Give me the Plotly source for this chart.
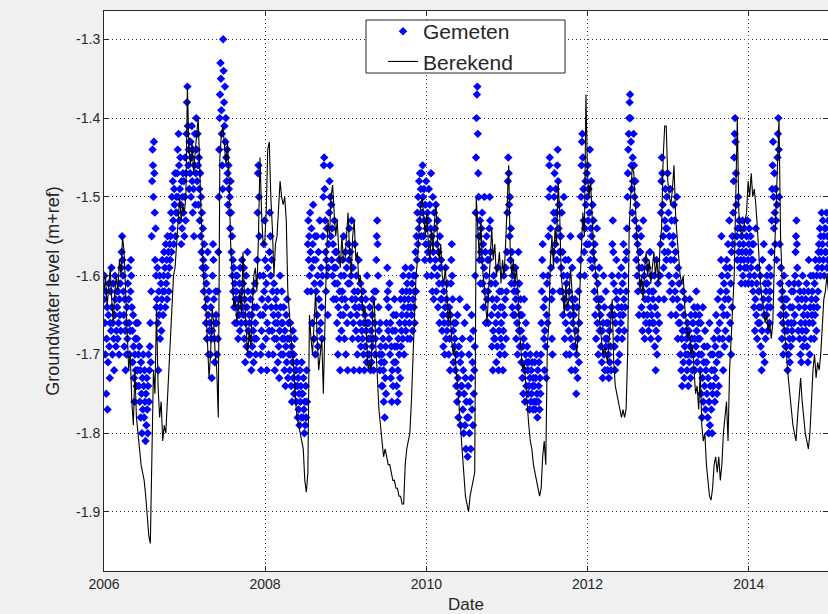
import pandas as pd
import plotly.graph_objects as go

# ---------------- data ----------------
# computed groundwater level, weekly values (m+ref)
berekend_2006 = [-1.62,-1.60,-1.64,-1.61,-1.59,-1.63,-1.66,-1.62,-1.60,-1.62,-1.58,-1.60,-1.55,-1.57,-1.62,-1.68,-1.72,-1.70,-1.76,-1.79,
                 -1.72,-1.78,-1.80,-1.82,-1.84,-1.85,-1.86,-1.88,-1.91,-1.93,-1.94,-1.85,-1.72,-1.75,-1.64,-1.74,-1.78,-1.76,-1.81,-1.79,
                 -1.80,-1.76,-1.72,-1.68,-1.64,-1.60,-1.59,-1.56,-1.54,-1.50,-1.53,-1.51]
berekend_2007 = [-1.52,-1.50,-1.36,-1.44,-1.46,-1.43,-1.47,-1.44,-1.42,-1.40,-1.48,-1.53,-1.58,-1.62,-1.64,-1.68,-1.73,-1.70,-1.64,-1.66,
                 -1.70,-1.72,-1.78,-1.45,-1.42,-1.41,-1.44,-1.46,-1.43,-1.48,-1.56,-1.60,-1.64,-1.63,-1.66,-1.64,-1.62,-1.65,-1.57,-1.63,
                 -1.66,-1.70,-1.67,-1.69,-1.64,-1.60,-1.59,-1.62,-1.55,-1.45,-1.52,-1.56]
berekend_2008 = [-1.56,-1.52,-1.44,-1.43,-1.50,-1.54,-1.60,-1.56,-1.55,-1.52,-1.48,-1.50,-1.51,-1.50,-1.53,-1.62,-1.65,-1.68,-1.70,-1.72,
                 -1.76,-1.78,-1.79,-1.80,-1.81,-1.82,-1.86,-1.875,-1.85,-1.65,-1.68,-1.70,-1.66,-1.62,-1.68,-1.72,-1.70,-1.68,-1.75,-1.66,
                 -1.58,-1.53,-1.55,-1.50,-1.485,-1.52,-1.55,-1.53,-1.57,-1.59,-1.55,-1.58]
berekend_2009 = [-1.58,-1.55,-1.52,-1.57,-1.60,-1.55,-1.53,-1.58,-1.57,-1.61,-1.60,-1.63,-1.65,-1.64,-1.68,-1.72,-1.71,-1.72,-1.64,-1.63,
                 -1.69,-1.74,-1.77,-1.79,-1.81,-1.83,-1.82,-1.83,-1.84,-1.84,-1.85,-1.86,-1.86,-1.87,-1.87,-1.88,-1.88,-1.89,-1.89,-1.84,
                 -1.82,-1.81,-1.80,-1.76,-1.70,-1.64,-1.60,-1.58,-1.54,-1.51,-1.50,-1.53]
berekend_2010 = [-1.55,-1.52,-1.56,-1.58,-1.54,-1.57,-1.53,-1.51,-1.56,-1.58,-1.56,-1.60,-1.61,-1.59,-1.63,-1.66,-1.64,-1.68,-1.70,-1.69,
                 -1.72,-1.74,-1.77,-1.80,-1.83,-1.86,-1.88,-1.89,-1.90,-1.88,-1.87,-1.86,-1.85,-1.50,-1.55,-1.58,-1.53,-1.59,-1.61,-1.64,
                 -1.66,-1.62,-1.57,-1.54,-1.58,-1.56,-1.60,-1.59,-1.57,-1.61,-1.58,-1.60]
berekend_2011 = [-1.56,-1.50,-1.46,-1.57,-1.60,-1.58,-1.61,-1.59,-1.62,-1.67,-1.70,-1.72,-1.71,-1.74,-1.77,-1.79,-1.81,-1.82,-1.84,-1.85,
                 -1.86,-1.87,-1.88,-1.87,-1.83,-1.81,-1.84,-1.69,-1.66,-1.58,-1.55,-1.59,-1.54,-1.56,-1.48,-1.52,-1.60,-1.62,-1.65,-1.61,
                 -1.64,-1.63,-1.59,-1.62,-1.66,-1.68,-1.70,-1.67,-1.62,-1.58,-1.52,-1.55]
berekend_2012 = [-1.37,-1.47,-1.50,-1.48,-1.52,-1.57,-1.59,-1.61,-1.63,-1.66,-1.68,-1.70,-1.69,-1.70,-1.71,-1.68,-1.66,-1.63,-1.71,-1.74,
                 -1.75,-1.76,-1.77,-1.78,-1.77,-1.78,-1.77,-1.70,-1.54,-1.50,-1.46,-1.47,-1.52,-1.55,-1.58,-1.62,-1.60,-1.63,-1.59,-1.57,
                 -1.60,-1.58,-1.61,-1.59,-1.57,-1.60,-1.58,-1.61,-1.56,-1.54,-1.45,-1.41]
berekend_2013 = [-1.41,-1.48,-1.50,-1.51,-1.49,-1.46,-1.52,-1.55,-1.58,-1.60,-1.61,-1.60,-1.64,-1.66,-1.68,-1.67,-1.70,-1.69,-1.72,-1.75,
                 -1.74,-1.77,-1.72,-1.79,-1.81,-1.80,-1.84,-1.86,-1.88,-1.885,-1.87,-1.84,-1.83,-1.85,-1.83,-1.86,-1.84,-1.80,-1.78,-1.76,
                 -1.81,-1.72,-1.68,-1.64,-1.60,-1.50,-1.40,-1.52,-1.54,-1.55,-1.54,-1.53]
berekend_2014 = [-1.52,-1.48,-1.50,-1.47,-1.50,-1.49,-1.51,-1.54,-1.58,-1.61,-1.63,-1.64,-1.66,-1.65,-1.67,-1.66,-1.68,-1.66,-1.58,-1.52,
                 -1.45,-1.40,-1.55,-1.62,-1.66,-1.68,-1.71,-1.73,-1.75,-1.77,-1.79,-1.80,-1.81,-1.78,-1.75,-1.73,-1.76,-1.78,-1.80,-1.81,
                 -1.82,-1.80,-1.76,-1.72,-1.70,-1.73,-1.71,-1.72,-1.70,-1.66,-1.63,-1.62,-1.60,-1.62]

# measured groundwater level, one value every 2 days from 2006-01-01 (m+ref)
gemeten = [
    -1.63,-1.60,-1.66,-1.70,-1.62,-1.75,-1.68,-1.64,-1.77,-1.71,-1.65,-1.61,-1.69,-1.73,-1.66,
    -1.62,-1.67,-1.59,-1.64,-1.70,-1.66,-1.61,-1.68,-1.72,-1.65,-1.60,-1.63,-1.69,-1.67,-1.62,
    -1.64,-1.68,-1.62,-1.66,-1.70,-1.63,-1.65,-1.61,-1.67,-1.59,-1.57,-1.55,-1.58,-1.60,-1.62,
    -1.65,-1.69,-1.63,-1.67,-1.72,-1.66,-1.70,-1.64,-1.68,-1.61,-1.59,-1.63,-1.66,-1.70,-1.67,
    -1.62,-1.58,-1.60,-1.64,-1.67,-1.71,-1.65,-1.69,-1.73,-1.76,-1.70,-1.68,-1.72,-1.66,-1.74,
    -1.68,-1.72,-1.66,-1.70,-1.74,-1.69,-1.76,-1.72,-1.78,-1.71,-1.75,-1.80,-1.73,-1.77,-1.70,
    -1.74,-1.78,-1.72,-1.76,-1.81,-1.75,-1.79,-1.73,-1.77,-1.80,-1.74,-1.70,-1.76,-1.72,-1.69,
    -1.66,-1.71,-1.62,-1.55,-1.48,-1.44,-1.46,-1.50,-1.43,-1.47,-1.52,-1.58,-1.54,-1.60,-1.64,
    -1.63,-1.59,-1.66,-1.72,-1.62,-1.65,-1.60,-1.68,-1.64,-1.61,-1.67,-1.63,-1.58,-1.62,-1.65,
    -1.60,-1.57,-1.62,-1.59,-1.64,-1.56,-1.61,-1.58,-1.63,-1.55,-1.60,-1.57,-1.62,-1.59,-1.56,
    -1.58,-1.55,-1.52,-1.57,-1.50,-1.54,-1.48,-1.53,-1.56,-1.49,-1.51,-1.47,-1.55,-1.52,-1.50,
    -1.52,-1.47,-1.44,-1.50,-1.42,-1.46,-1.53,-1.49,-1.45,-1.51,-1.56,-1.48,-1.54,-1.50,-1.47,
    -1.52,-1.48,-1.55,-1.50,-1.45,-1.53,-1.47,-1.42,-1.38,-1.36,-1.41,-1.46,-1.44,-1.49,-1.43,
    -1.47,-1.43,-1.50,-1.45,-1.41,-1.48,-1.52,-1.44,-1.49,-1.55,-1.46,-1.42,-1.51,-1.47,-1.40,
    -1.44,-1.48,-1.42,-1.46,-1.51,-1.45,-1.49,-1.53,-1.47,-1.55,-1.50,-1.57,-1.52,-1.59,-1.54,
    -1.58,-1.62,-1.56,-1.60,-1.64,-1.59,-1.66,-1.61,-1.68,-1.63,-1.57,-1.65,-1.70,-1.62,-1.67,
    -1.66,-1.70,-1.64,-1.68,-1.73,-1.67,-1.60,-1.56,-1.58,-1.63,-1.68,-1.71,-1.66,-1.62,-1.65,
    -1.66,-1.70,-1.62,-1.68,-1.57,-1.50,-1.44,-1.40,-1.37,-1.33,-1.35,-1.39,-1.42,-1.46,-1.49,
    -1.30,-1.34,-1.38,-1.41,-1.36,-1.43,-1.40,-1.45,-1.48,-1.44,-1.47,-1.51,-1.46,-1.49,-1.52,
    -1.50,-1.54,-1.48,-1.52,-1.57,-1.55,-1.60,-1.58,-1.62,-1.59,-1.64,-1.61,-1.66,-1.63,-1.60,
    -1.62,-1.66,-1.60,-1.64,-1.68,-1.63,-1.65,-1.61,-1.67,-1.59,-1.63,-1.66,-1.62,-1.58,-1.64,
    -1.61,-1.65,-1.59,-1.68,-1.63,-1.71,-1.66,-1.60,-1.69,-1.64,-1.57,-1.62,-1.67,-1.70,-1.65,
    -1.66,-1.70,-1.63,-1.68,-1.72,-1.65,-1.69,-1.62,-1.67,-1.71,-1.64,-1.68,-1.61,-1.66,-1.70,
    -1.68,-1.64,-1.58,-1.52,-1.47,-1.46,-1.50,-1.55,-1.60,-1.65,-1.70,-1.72,-1.67,-1.63,-1.69,
    -1.65,-1.60,-1.56,-1.62,-1.53,-1.58,-1.64,-1.68,-1.61,-1.72,-1.66,-1.59,-1.63,-1.70,-1.67,
    -1.57,-1.52,-1.55,-1.60,-1.64,-1.58,-1.67,-1.62,-1.70,-1.65,-1.61,-1.68,-1.72,-1.66,-1.63,
    -1.64,-1.68,-1.62,-1.66,-1.71,-1.65,-1.69,-1.73,-1.67,-1.60,-1.64,-1.70,-1.66,-1.62,-1.68,
    -1.66,-1.70,-1.64,-1.68,-1.72,-1.67,-1.74,-1.69,-1.65,-1.71,-1.63,-1.68,-1.73,-1.66,-1.70,
    -1.68,-1.72,-1.66,-1.70,-1.74,-1.69,-1.76,-1.71,-1.67,-1.73,-1.70,-1.75,-1.68,-1.72,-1.74,
    -1.72,-1.76,-1.71,-1.74,-1.78,-1.73,-1.77,-1.75,-1.79,-1.72,-1.76,-1.74,-1.78,-1.71,-1.75,
    -1.75,-1.78,-1.73,-1.77,-1.80,-1.76,-1.79,-1.74,-1.78,-1.72,-1.76,-1.62,-1.56,-1.53,-1.58,
    -1.55,-1.60,-1.52,-1.57,-1.62,-1.54,-1.59,-1.66,-1.56,-1.51,-1.58,-1.68,-1.61,-1.55,-1.70,
    -1.58,-1.62,-1.55,-1.65,-1.60,-1.69,-1.57,-1.63,-1.67,-1.53,-1.61,-1.66,-1.59,-1.64,-1.68,
    -1.60,-1.55,-1.50,-1.46,-1.45,-1.49,-1.53,-1.57,-1.62,-1.58,-1.54,-1.60,-1.65,-1.59,-1.56,
    -1.52,-1.48,-1.46,-1.50,-1.55,-1.51,-1.58,-1.54,-1.60,-1.56,-1.63,-1.59,-1.53,-1.61,-1.57,
    -1.59,-1.63,-1.57,-1.66,-1.61,-1.70,-1.64,-1.58,-1.68,-1.62,-1.72,-1.65,-1.60,-1.67,-1.63,
    -1.62,-1.58,-1.65,-1.55,-1.60,-1.68,-1.63,-1.57,-1.70,-1.64,-1.59,-1.66,-1.72,-1.61,-1.56,
    -1.58,-1.54,-1.61,-1.57,-1.65,-1.60,-1.53,-1.63,-1.68,-1.59,-1.66,-1.72,-1.62,-1.56,-1.64,
    -1.63,-1.67,-1.60,-1.65,-1.70,-1.62,-1.68,-1.58,-1.64,-1.72,-1.66,-1.61,-1.69,-1.63,-1.67,
    -1.64,-1.68,-1.62,-1.70,-1.66,-1.72,-1.65,-1.69,-1.63,-1.67,-1.71,-1.60,-1.66,-1.70,-1.68,
    -1.66,-1.70,-1.64,-1.68,-1.72,-1.67,-1.71,-1.65,-1.69,-1.63,-1.68,-1.72,-1.62,-1.66,-1.70,
    -1.68,-1.62,-1.58,-1.55,-1.53,-1.56,-1.60,-1.64,-1.67,-1.70,-1.72,-1.66,-1.69,-1.71,-1.74,
    -1.70,-1.74,-1.68,-1.72,-1.76,-1.71,-1.78,-1.73,-1.69,-1.75,-1.66,-1.63,-1.59,-1.62,-1.67,
    -1.64,-1.68,-1.61,-1.70,-1.66,-1.73,-1.69,-1.76,-1.72,-1.67,-1.74,-1.65,-1.71,-1.63,-1.69,
    -1.67,-1.71,-1.65,-1.74,-1.69,-1.76,-1.72,-1.68,-1.75,-1.70,-1.66,-1.73,-1.63,-1.69,-1.67,
    -1.65,-1.62,-1.68,-1.60,-1.64,-1.70,-1.63,-1.66,-1.59,-1.67,-1.62,-1.65,-1.61,-1.68,-1.64,
    -1.63,-1.60,-1.66,-1.62,-1.68,-1.64,-1.59,-1.65,-1.61,-1.67,-1.63,-1.60,-1.64,-1.62,-1.66,
    -1.60,-1.57,-1.62,-1.55,-1.58,-1.52,-1.56,-1.50,-1.54,-1.48,-1.53,-1.47,-1.51,-1.49,-1.55,
    -1.47,-1.52,-1.46,-1.50,-1.55,-1.49,-1.53,-1.58,-1.51,-1.56,-1.48,-1.54,-1.60,-1.52,-1.57,
    -1.53,-1.49,-1.56,-1.51,-1.58,-1.54,-1.47,-1.60,-1.55,-1.62,-1.50,-1.57,-1.63,-1.52,-1.59,
    -1.54,-1.58,-1.51,-1.62,-1.56,-1.60,-1.53,-1.64,-1.57,-1.61,-1.66,-1.55,-1.59,-1.63,-1.58,
    -1.63,-1.67,-1.61,-1.65,-1.69,-1.62,-1.66,-1.70,-1.64,-1.59,-1.68,-1.63,-1.67,-1.61,-1.65,
    -1.66,-1.70,-1.64,-1.68,-1.72,-1.65,-1.61,-1.58,-1.56,-1.60,-1.63,-1.67,-1.71,-1.66,-1.69,
    -1.68,-1.72,-1.66,-1.74,-1.70,-1.76,-1.65,-1.73,-1.78,-1.69,-1.75,-1.63,-1.71,-1.79,-1.74,
    -1.70,-1.74,-1.68,-1.77,-1.72,-1.80,-1.75,-1.66,-1.79,-1.73,-1.82,-1.76,-1.64,-1.78,-1.83,
    -1.74,-1.78,-1.70,-1.80,-1.76,-1.68,-1.82,-1.73,-1.65,-1.77,-1.71,-1.79,-1.67,-1.75,-1.72,
    -1.69,-1.60,-1.52,-1.45,-1.40,-1.37,-1.36,-1.42,-1.47,-1.50,-1.55,-1.58,-1.53,-1.61,-1.57,
    -1.54,-1.58,-1.52,-1.61,-1.56,-1.64,-1.59,-1.50,-1.62,-1.57,-1.66,-1.60,-1.55,-1.63,-1.58,
    -1.62,-1.66,-1.58,-1.54,-1.50,-1.53,-1.57,-1.61,-1.65,-1.69,-1.63,-1.72,-1.67,-1.60,-1.68,
    -1.64,-1.68,-1.61,-1.66,-1.71,-1.63,-1.69,-1.59,-1.65,-1.72,-1.67,-1.62,-1.70,-1.64,-1.68,
    -1.66,-1.62,-1.69,-1.64,-1.72,-1.67,-1.60,-1.65,-1.70,-1.63,-1.59,-1.68,-1.62,-1.57,-1.52,
    -1.48,-1.45,-1.47,-1.51,-1.55,-1.50,-1.58,-1.54,-1.61,-1.57,-1.64,-1.60,-1.65,-1.59,-1.62,
    -1.61,-1.65,-1.59,-1.63,-1.68,-1.62,-1.66,-1.70,-1.64,-1.57,-1.67,-1.61,-1.69,-1.65,-1.63,
    -1.67,-1.71,-1.65,-1.73,-1.69,-1.75,-1.68,-1.63,-1.72,-1.76,-1.70,-1.66,-1.74,-1.71,-1.69,
    -1.72,-1.75,-1.71,-1.74,-1.77,-1.73,-1.70,-1.76,-1.72,-1.75,-1.71,-1.74,-1.77,-1.73,-1.76,
    -1.74,-1.71,-1.77,-1.73,-1.76,-1.70,-1.75,-1.78,-1.72,-1.76,-1.74,-1.71,-1.77,-1.73,-1.75,
    -1.70,-1.66,-1.62,-1.58,-1.56,-1.60,-1.64,-1.68,-1.72,-1.67,-1.63,-1.69,-1.73,-1.65,-1.61,
    -1.66,-1.60,-1.55,-1.50,-1.46,-1.45,-1.49,-1.54,-1.59,-1.63,-1.68,-1.70,-1.62,-1.57,-1.52,
    -1.50,-1.47,-1.53,-1.56,-1.49,-1.52,-1.58,-1.46,-1.44,-1.48,-1.54,-1.51,-1.57,-1.62,-1.55,
    -1.55,-1.59,-1.52,-1.62,-1.57,-1.65,-1.60,-1.50,-1.63,-1.68,-1.58,-1.66,-1.70,-1.61,-1.64,
    -1.60,-1.64,-1.58,-1.67,-1.62,-1.70,-1.65,-1.55,-1.68,-1.72,-1.63,-1.59,-1.66,-1.69,-1.64,
    -1.65,-1.69,-1.63,-1.72,-1.67,-1.75,-1.70,-1.64,-1.73,-1.68,-1.62,-1.71,-1.66,-1.60,-1.58,
    -1.55,-1.50,-1.46,-1.43,-1.42,-1.45,-1.49,-1.53,-1.57,-1.60,-1.54,-1.48,-1.51,-1.56,-1.47,
    -1.50,-1.46,-1.53,-1.49,-1.56,-1.52,-1.44,-1.58,-1.54,-1.48,-1.55,-1.59,-1.51,-1.57,-1.53,
    -1.58,-1.62,-1.56,-1.65,-1.60,-1.68,-1.63,-1.54,-1.66,-1.61,-1.70,-1.64,-1.59,-1.67,-1.63,
    -1.65,-1.69,-1.63,-1.71,-1.67,-1.73,-1.66,-1.60,-1.70,-1.64,-1.72,-1.68,-1.62,-1.69,-1.66,
    -1.68,-1.72,-1.66,-1.70,-1.73,-1.67,-1.71,-1.65,-1.69,-1.72,-1.64,-1.60,-1.56,-1.53,-1.57,
    -1.61,-1.65,-1.69,-1.72,-1.66,-1.62,-1.58,-1.63,-1.68,-1.71,-1.64,-1.60,-1.67,-1.70,-1.65,
    -1.62,-1.66,-1.59,-1.64,-1.68,-1.61,-1.65,-1.56,-1.63,-1.67,-1.60,-1.64,-1.58,-1.62,-1.57,
    -1.54,-1.50,-1.47,-1.44,-1.42,-1.40,-1.38,-1.37,-1.40,-1.43,-1.46,-1.49,-1.52,-1.45,-1.48,
    -1.42,-1.46,-1.50,-1.53,-1.48,-1.55,-1.58,-1.51,-1.60,-1.56,-1.62,-1.54,-1.65,-1.59,-1.57,
    -1.57,-1.61,-1.55,-1.64,-1.59,-1.67,-1.62,-1.53,-1.65,-1.60,-1.68,-1.63,-1.58,-1.66,-1.61,
    -1.61,-1.65,-1.59,-1.63,-1.67,-1.62,-1.66,-1.57,-1.64,-1.68,-1.60,-1.65,-1.62,-1.66,-1.63,
    -1.62,-1.66,-1.60,-1.69,-1.64,-1.72,-1.67,-1.58,-1.70,-1.65,-1.61,-1.68,-1.63,-1.66,-1.60,
    -1.60,-1.56,-1.52,-1.48,-1.45,-1.47,-1.51,-1.55,-1.59,-1.63,-1.57,-1.53,-1.49,-1.54,-1.58,
    -1.50,-1.54,-1.47,-1.57,-1.52,-1.60,-1.55,-1.62,-1.49,-1.58,-1.65,-1.53,-1.61,-1.56,-1.63,
    -1.55,-1.51,-1.58,-1.53,-1.62,-1.57,-1.65,-1.60,-1.50,-1.63,-1.68,-1.59,-1.66,-1.61,-1.64,
    -1.66,-1.70,-1.64,-1.72,-1.68,-1.74,-1.67,-1.62,-1.71,-1.65,-1.73,-1.69,-1.63,-1.70,-1.67,
    -1.68,-1.72,-1.66,-1.70,-1.74,-1.67,-1.71,-1.63,-1.69,-1.73,-1.65,-1.70,-1.68,-1.72,-1.66,
    -1.66,-1.70,-1.64,-1.68,-1.72,-1.65,-1.69,-1.62,-1.67,-1.71,-1.64,-1.68,-1.66,-1.70,-1.65,
    -1.68,-1.72,-1.66,-1.75,-1.70,-1.78,-1.73,-1.64,-1.76,-1.71,-1.69,-1.74,-1.67,-1.77,-1.72,
    -1.71,-1.75,-1.69,-1.78,-1.73,-1.80,-1.76,-1.66,-1.79,-1.74,-1.70,-1.77,-1.72,-1.80,-1.75,
    -1.70,-1.74,-1.68,-1.72,-1.76,-1.69,-1.73,-1.65,-1.71,-1.75,-1.67,-1.63,-1.70,-1.74,-1.68,
    -1.66,-1.70,-1.62,-1.58,-1.55,-1.60,-1.64,-1.68,-1.72,-1.65,-1.61,-1.69,-1.63,-1.67,-1.59,
    -1.62,-1.58,-1.65,-1.60,-1.56,-1.63,-1.68,-1.53,-1.59,-1.66,-1.61,-1.70,-1.57,-1.64,-1.55,
    -1.56,-1.52,-1.48,-1.45,-1.42,-1.40,-1.43,-1.47,-1.51,-1.55,-1.58,-1.54,-1.50,-1.57,-1.53,
    -1.56,-1.59,-1.54,-1.58,-1.61,-1.55,-1.57,-1.53,-1.60,-1.56,-1.58,-1.54,-1.59,-1.61,-1.57,
    -1.57,-1.55,-1.59,-1.53,-1.58,-1.61,-1.56,-1.54,-1.60,-1.57,-1.55,-1.59,-1.58,-1.61,-1.56,
    -1.58,-1.62,-1.56,-1.64,-1.60,-1.67,-1.63,-1.54,-1.65,-1.61,-1.68,-1.59,-1.66,-1.62,-1.64,
    -1.62,-1.66,-1.60,-1.69,-1.64,-1.72,-1.67,-1.58,-1.70,-1.63,-1.56,-1.65,-1.71,-1.61,-1.68,
    -1.62,-1.65,-1.60,-1.64,-1.67,-1.61,-1.63,-1.59,-1.66,-1.62,-1.64,-1.60,-1.57,-1.53,-1.49,
    -1.46,-1.43,-1.50,-1.54,-1.47,-1.52,-1.56,-1.49,-1.53,-1.58,-1.51,-1.45,-1.42,-1.40,-1.44,
    -1.50,-1.56,-1.61,-1.65,-1.59,-1.63,-1.68,-1.62,-1.66,-1.70,-1.64,-1.60,-1.67,-1.63,-1.69,
    -1.65,-1.69,-1.63,-1.67,-1.72,-1.66,-1.70,-1.61,-1.68,-1.71,-1.64,-1.69,-1.66,-1.62,-1.67,
    -1.64,-1.68,-1.62,-1.66,-1.61,-1.65,-1.60,-1.57,-1.55,-1.53,-1.56,-1.59,-1.63,-1.67,-1.61,
    -1.64,-1.68,-1.62,-1.70,-1.66,-1.71,-1.63,-1.67,-1.60,-1.69,-1.65,-1.62,-1.68,-1.64,-1.66,
    -1.63,-1.67,-1.61,-1.69,-1.65,-1.71,-1.62,-1.58,-1.66,-1.70,-1.64,-1.60,-1.68,-1.63,-1.65,
    -1.62,-1.66,-1.60,-1.64,-1.68,-1.61,-1.65,-1.58,-1.63,-1.67,-1.60,-1.64,-1.59,-1.62,-1.57,
    -1.56,-1.58,-1.54,-1.60,-1.55,-1.57,-1.52,-1.59,-1.56,-1.53,-1.58,-1.55,-1.60,-1.54,-1.57,
    -1.54,-1.57,-1.52,-1.59,-1.55,-1.58,-1.53,-1.56,-1.60,-1.54,-1.57,-1.52,-1.58,-1.55,-1.56,
]

x_tick_vals = ["2006-01-01", "2008-01-01", "2010-01-01", "2012-01-01", "2014-01-01"]
x_tick_text = ["2006", "2008", "2010", "2012", "2014"]
y_tick_vals = [-1.9, -1.8, -1.7, -1.6, -1.5, -1.4, -1.3]
y_tick_text = ["-1.9", "-1.8", "-1.7", "-1.6", "-1.5", "-1.4", "-1.3"]

berekend = (berekend_2006 + berekend_2007 + berekend_2008 + berekend_2009 + berekend_2010
            + berekend_2011 + berekend_2012 + berekend_2013 + berekend_2014)
dates_line = pd.date_range("2006-01-01", periods=len(berekend), freq="7D")
dates_meas = pd.date_range("2006-01-01", periods=len(gemeten), freq="2D")

FONT = "Liberation Sans, Arial, sans-serif"

fig = go.Figure()
fig.add_trace(go.Scatter(
    x=dates_meas, y=gemeten, mode="markers", name="Gemeten",
    marker=dict(symbol="diamond", size=6.5, color="#0000ff", line=dict(width=0)),
))
fig.add_trace(go.Scatter(
    x=dates_line, y=berekend, mode="lines", name="Berekend",
    line=dict(color="#000000", width=1.1),
))

axis_common = dict(
    showline=True, linecolor="#262626", linewidth=1, mirror="ticks",
    ticks="inside", ticklen=5, tickcolor="#262626",
    showgrid=True, gridcolor="#3a3a3a", gridwidth=1, griddash="1px,3px",
    zeroline=False, tickfont=dict(family=FONT, size=14, color="#262626"),
)

fig.update_layout(
    width=828, height=614,
    margin=dict(l=104, r=0, t=11, b=43),
    paper_bgcolor="#f0f0f0", plot_bgcolor="#ffffff",
    font=dict(family=FONT, color="#262626"),
    xaxis=dict(
        type="date", range=["2006-01-01", "2014-12-26"],
        tickvals=x_tick_vals, ticktext=x_tick_text,
        title=dict(text="Date", font=dict(family=FONT, size=17, color="#262626"), standoff=9),
        automargin=False,
        **axis_common,
    ),
    yaxis=dict(
        range=[-1.975, -1.264],
        tickvals=y_tick_vals, ticktext=y_tick_text,
        title=dict(text="Groundwater level (m+ref)", font=dict(family=FONT, size=18, color="#262626"), standoff=11),
        automargin=False, ticklabelstandoff=0,
        **axis_common,
    ),
    showlegend=True,
    legend=dict(
        x=(383 - 104) / 724, y=1.0, xanchor="left", yanchor="top",
        bgcolor="rgba(0,0,0,0)", borderwidth=0,
        font=dict(family=FONT, size=21, color="#262626"),
        tracegroupgap=0,
    ),
    shapes=[dict(
        type="rect", xref="paper", yref="paper",
        x0=(366 - 104) / 724, x1=(565 - 104) / 724,
        y0=(571 - 73) / 560, y1=(571 - 20) / 560,
        line=dict(color="#262626", width=1), fillcolor="#ffffff", layer="above",
    )],
)

fig.write_html(
    "out.html",
    config={"displayModeBar": False},
    post_script="document.body.style.margin='0';document.body.style.padding='0';"
                "document.documentElement.style.overflow='hidden';",
)
